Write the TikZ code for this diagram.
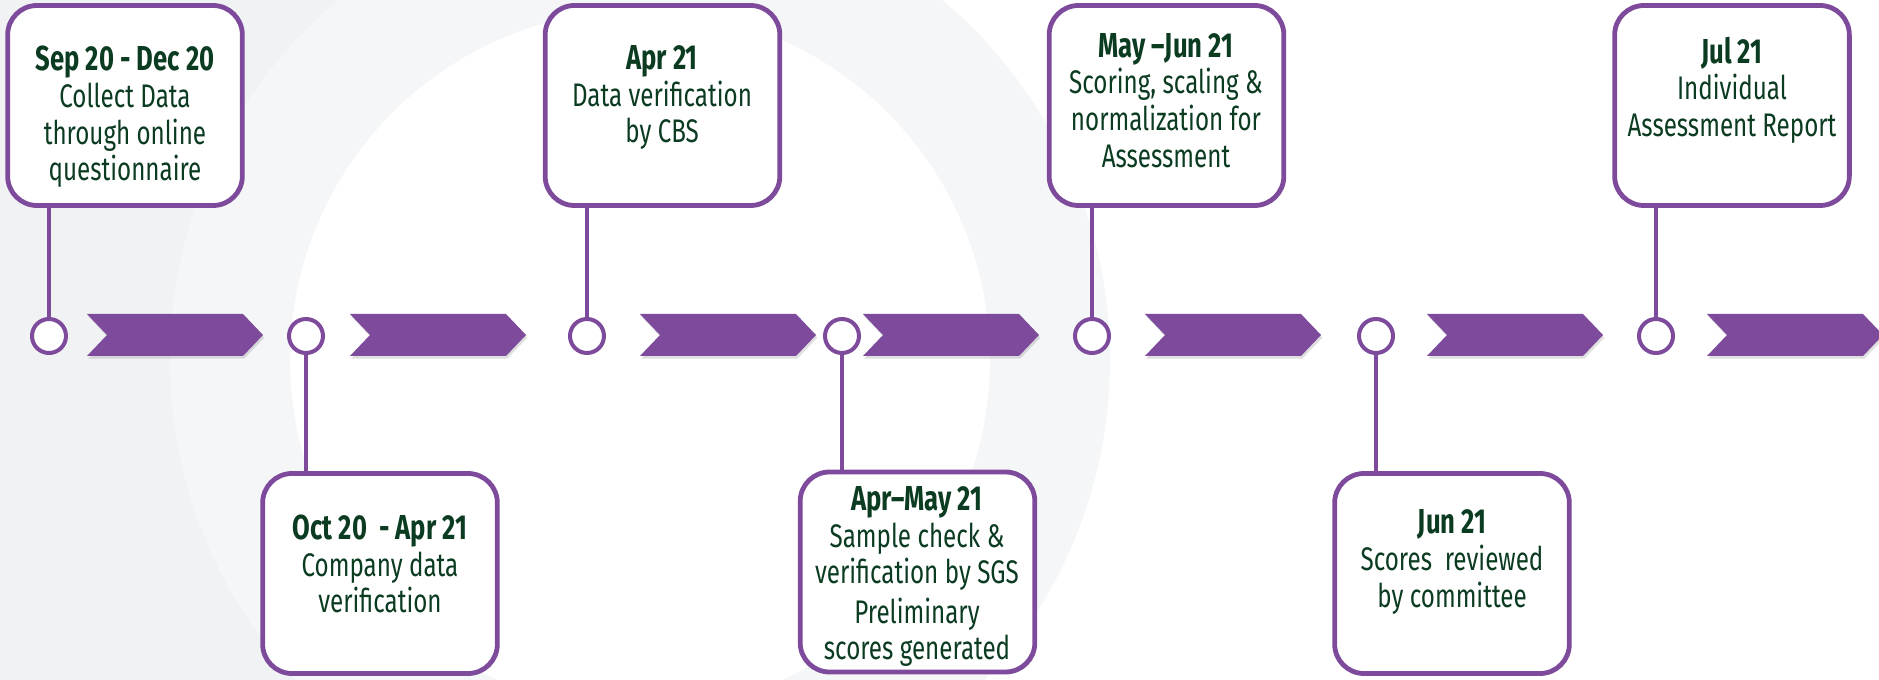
\documentclass[tikz,border=0pt]{standalone}
\usepackage{fontspec}
\setmainfont{Fira Sans}[FakeStretch=0.74]
\usetikzlibrary{shadows}
\definecolor{tlpurple}{HTML}{7E4A9C}
\definecolor{tlgreen}{HTML}{0B3B20}
\definecolor{bggray}{HTML}{F1F2F3}
\definecolor{ringgray}{HTML}{F5F6F7}
\begin{document}
\begin{tikzpicture}[x=0.75pt,y=-0.75pt,
  stepbox/.style={draw=tlpurple,line width=3.6pt,fill=white,rounded corners=22pt,
    minimum width=176pt,minimum height=150pt,inner sep=0pt,
    drop shadow={shadow xshift=1.5pt,shadow yshift=-1.5pt,opacity=0.18}},
  dot/.style={circle,draw=tlpurple,line width=3pt,fill=white,minimum size=25.5pt,inner sep=0pt},
  stem/.style={draw=tlpurple,line width=3pt},
  chev/.style={fill=tlpurple,drop shadow={shadow xshift=1pt,shadow yshift=-2pt,opacity=0.25}},
  txt/.style={text=tlgreen,align=center,font=\fontsize{24.5pt}{27.5pt}\selectfont},
]
\useasboundingbox (0,0) rectangle (1879,680);
% background
\fill[white] (0,0) rectangle (1879,680);
\fill[bggray] (0,0) -- (380,0) .. controls (190,150) and (110,420) .. (330,680) -- (0,680) -- cycle;
\begin{scope}
\clip (0,0) rectangle (1879,680);
\draw[ringgray,line width=90pt] (640,360) circle[radius=410];
\end{scope}
\newcommand{\hd}[1]{{\fontsize{26pt}{27.5pt}\selectfont\bfseries #1}}

% chevrons
\foreach \s in {87,350,640,863,1145,1427,1707}{
  \fill[chev] (\s,314) -- ({\s+156},314) -- ({\s+176},335) -- ({\s+156},356) -- (\s,356) -- ({\s+20},335) -- cycle;
}

% boxes
\node[stepbox] (b1) at (125,105.5) {};
\node[stepbox] (b2) at (380,573.5) {};
\node[stepbox] (b3) at (662.5,105.5) {};
\node[stepbox] (b4) at (917.5,572) {};
\node[stepbox] (b5) at (1166.5,105.5) {};
\node[stepbox] (b6) at (1452,573.5) {};
\node[stepbox] (b7) at (1732,105.5) {};

% circles
\node[dot] (c1) at (49,336) {};
\node[dot] (c2) at (306,336) {};
\node[dot] (c3) at (587,336) {};
\node[dot] (c4) at (842,336) {};
\node[dot] (c5) at (1092,336) {};
\node[dot] (c6) at (1376,336) {};
\node[dot] (c7) at (1656,336) {};

% stems
\draw[stem] (c1.north) -- (c1.north |- b1.south);
\draw[stem] (c3.north) -- (c3.north |- b3.south);
\draw[stem] (c5.north) -- (c5.north |- b5.south);
\draw[stem] (c7.north) -- (c7.north |- b7.south);
\draw[stem] (c2.south) -- (c2.south |- b2.north);
\draw[stem] (c4.south) -- (c4.south |- b4.north);
\draw[stem] (c6.south) -- (c6.south |- b6.north);

% texts
\node[txt] (t1) at (125,117) {\hd{Sep 20 - Dec 20}\\Collect Data\\through online\\questionnaire};
\node[txt] (t3) at (662,97.5) {\hd{Apr 21}\\Data verification\\by CBS};
\node[txt] (t5) at (1166,100.5) {\hd{May --Jun 21}\\Scoring, scaling \&\\normalization for\\Assessment};
\node[txt] (t7) at (1732,90) {\hd{Jul 21}\\Individual\\Assessment Report};
\node[txt] (t2) at (380,564) {\hd{Oct 20\ \ - Apr 21}\\Company data\\verification};
\node[txt] (t4) at (917,576.5) {\hd{Apr--May 21}\\Sample check \&\\verification by SGS\\[2pt]Preliminary\\scores generated};
\node[txt] (t6) at (1452,562) {\hd{Jun 21}\\Scores\ \ reviewed\\by committee};
\end{tikzpicture}
\end{document}
